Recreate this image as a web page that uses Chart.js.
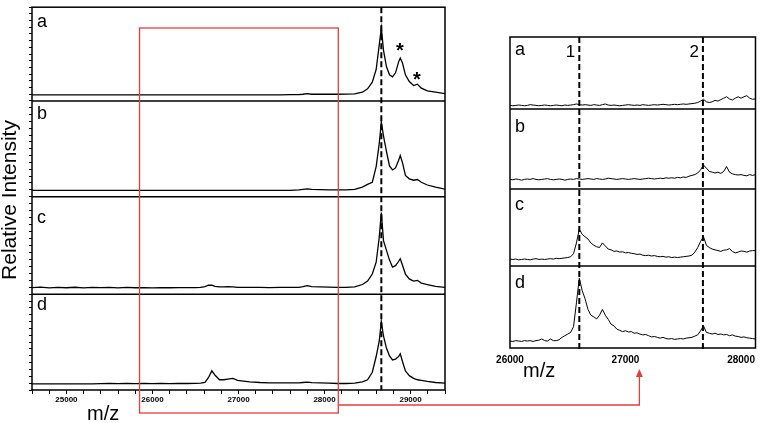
<!DOCTYPE html>
<html>
<head>
<meta charset="utf-8">
<script src="https://cdn.jsdelivr.net/npm/chart.js@4/dist/chart.umd.min.js"></script>
<style>
html, body { margin: 0; padding: 0; background: #fff; }
#wrap { position: relative; width: 761px; height: 423px; }
canvas { position: absolute; left: 0; top: 0; }
</style>
</head>
<body>
<div id="wrap">
<canvas id="left" width="761" height="423"></canvas>
<canvas id="right" width="761" height="423"></canvas>
</div>
<script>
// full spectra (left), m/z grid shared by the four traces
var leftMz = [24600, 24700, 24800, 24900, 25000, 25100, 25200, 25300, 25400, 25500,
    25600, 25700, 25800, 25900, 26000, 26100, 26200, 26300, 26400, 26500,
    26560, 26610, 26650, 26690, 26725, 26780, 26830, 26875, 26935, 26990,
    27060, 27130, 27250, 27360, 27480, 27600, 27700, 27750, 27800, 27850,
    27950, 28050, 28150, 28250, 28350, 28440, 28500, 28555, 28600, 28635,
    28660, 28685, 28720, 28755, 28790, 28825, 28860, 28880, 28905, 28940,
    28985, 29035, 29080, 29125, 29195, 29290, 29400];
var leftA = [0, 0, 0, 0, 0, 0, 0, 0, 0, 0,
    0, 0, 0, 0, 0, 0, 0, 0, 0, 0,
    0, 0, 0, 0, 0, 0, 0, 0, 0, 0,
    0, 0, 0, 0, 0, 0.3, 0.5, 1, 1.8, 1,
    1, 1, 1, 1.2, 1.5, 4, 9, 19, 38, 74,
    100, 67, 42, 30, 27, 33, 49, 55, 48, 30,
    20, 14, 16, 10, 6, 4, 2];
var leftB = [0, 0, 0, 0, 0, 0, 0, 0, 0, 0,
    0, 0, 0, 0, 0, 0, 0, 0, 0, 0,
    0, 0, 0, 0, 0, 0, 0, 0, 0, 0,
    0, 0, 0, 0, 0, 0, 0.8, 1.5, 2.2, 1.5,
    1.3, 1, 0.8, 0.8, 1.5, 5, 9, 12, 35, 68,
    100, 80, 57, 36, 30, 33, 44, 51, 41, 22,
    17, 15, 16, 12, 8, 5, 2];
var leftC = [0.5, 1.2, 0.3, 1.0, 0.4, 1.1, 0.2, 0.9, 0.5, 1.0,
    0.3, 0.8, 0.4, 0.6, 0.3, 0.5, 0.4, 0.6, 0.5, 0.7,
    1, 2, 4, 4, 2.5, 1.5, 1.5, 2, 1.5, 1,
    1, 0.8, 0.8, 0.7, 0.8, 0.9, 1, 2, 3.5, 2,
    1.5, 1.2, 1, 1, 1.5, 5, 10, 20, 37, 72,
    108, 68, 54, 40, 30, 32, 38, 42, 33, 20,
    13, 10, 11, 7, 5, 2.5, 1];
var leftD = [0, 0, 0, 0, 0, 0, 0, 0, 0.3, 0.8,
    0.3, 0.5, 0.3, 0.5, 0.3, 0.5, 0.4, 0.5, 0.5, 0.6,
    1, 2, 9, 19, 13, 6, 6, 7, 8, 5,
    4, 3, 2, 1.5, 1.5, 1.5, 1.5, 2, 2.5, 1.8,
    1.5, 1, 0.5, 0.5, 1, 3, 6, 17, 40, 62,
    91, 70, 52, 41, 35, 36, 40, 44, 33, 19,
    12, 8, 6, 5, 3.5, 2, 1];
var leftTicks = [24600, 24800, 25000, 25200, 25400, 25600, 25800, 26000, 26200, 26400,
    26600, 26800, 27000, 27200, 27400, 27600, 27800, 28000, 28200, 28400,
    28600, 28800, 29000, 29200, 29400];

// zoomed region (right)
var rightMz = [26000, 26025, 26050, 26075, 26100, 26125, 26150, 26175, 26200, 26225,
    26250, 26275, 26300, 26325, 26350, 26375, 26400, 26425, 26450, 26475,
    26500, 26525, 26550, 26575, 26600, 26625, 26650, 26675, 26700, 26725,
    26750, 26775, 26800, 26825, 26850, 26875, 26900, 26925, 26950, 26975,
    27000, 27025, 27050, 27075, 27100, 27125, 27150, 27175, 27200, 27225,
    27250, 27275, 27300, 27325, 27350, 27375, 27400, 27425, 27450, 27475,
    27500, 27525, 27550, 27575, 27600, 27625, 27650, 27675, 27700, 27725,
    27750, 27775, 27800, 27825, 27850, 27875, 27900, 27925, 27950, 27975,
    28000, 28025, 28050, 28075, 28100, 28125];
var rightA = [5, 4.5, 5, 5.5, 5, 4.5, 5, 6, 5.5, 5,
    4.5, 5, 5.5, 5, 4.5, 5, 5.5, 5, 4.5, 5.5,
    5, 5.5, 6, 7, 6, 5.5, 6, 5.5, 5, 6,
    5.5, 5, 6, 7, 5.5, 5, 5.5, 5, 4.5, 5,
    5.5, 6, 5.5, 5, 5.5, 5, 6, 5.5, 5, 5.5,
    6, 5.5, 6, 6.5, 6, 5.5, 6, 6.5, 6, 6.5,
    7, 6.5, 7, 7.5, 8, 9, 11, 13.5, 10, 9,
    10, 12, 11, 13, 15, 17, 14, 12.5, 15, 17,
    15, 17, 18.5, 15, 13.5, 14];
var rightB = [12, 11.5, 12.5, 12, 11, 12, 12.5, 12, 13, 12,
    11.5, 12, 12.5, 13, 12, 11.5, 12, 12.5, 12, 11,
    12, 12.5, 12, 13, 12.5, 12, 12.5, 13, 12.5, 12,
    13, 12.5, 12, 12.5, 13.5, 13, 12.5, 12, 12.5, 13,
    12.5, 12, 12.5, 13, 12.5, 12, 12.5, 13, 13.5, 13,
    12.5, 13, 13.5, 13, 14, 13.5, 14, 13.5, 14.5, 14,
    15, 14.5, 16, 17, 18, 20, 24, 30, 26, 22,
    21, 20, 21, 19.5, 22, 28, 21, 19, 18, 17.5,
    18, 17, 16.5, 18, 17, 18];
var rightC = [9, 8.5, 9, 8, 8.5, 9, 8.5, 8, 9, 9.5,
    8.5, 9, 8.5, 9, 9.5, 9, 10, 9.5, 10, 10.5,
    11, 12, 16, 30, 48, 41, 38, 35, 30, 27,
    25, 24, 30, 26, 22, 21, 19, 19.5, 18, 18.5,
    17, 17.5, 16.5, 16, 15, 15.5, 14, 13.5, 14, 13,
    13.5, 12.5, 12, 12.5, 11.5, 12, 11, 11.5, 11, 11.5,
    12, 12.5, 13, 14, 18, 24, 32, 38, 27, 24,
    22, 21, 20, 19, 20.5, 21, 22.5, 19, 17, 18,
    19.5, 19, 18, 19.5, 20, 20];
var rightD = [8.5, 8, 9, 8.5, 8, 9, 8.5, 9, 8, 9,
    9.5, 11, 9, 8.5, 11, 9, 9, 10, 13, 15,
    17, 19, 26, 55, 85, 70, 60, 47, 40, 38,
    35.5, 40, 47, 40, 35, 29, 27, 23, 21.5, 20,
    21, 19.5, 20, 18, 18.5, 17, 16, 16.5, 15, 13.5,
    14, 13, 12, 13, 11.5, 11, 11.5, 10.5, 11, 11.5,
    11, 12, 12.5, 13, 14.5, 16, 21, 27, 19, 18,
    17, 18, 16.5, 17, 16, 16.5, 15, 16, 14.5, 14,
    13, 13.5, 12.5, 12, 11.5, 11];
var rightTicks = [26000, 27000, 28000];

var rowLabels = ['a', 'b', 'c', 'd'];
var mainPeak = 28660;
var markerMz = [26600, 27670];
var markerText = ['1', '2'];
var starMz = [28876, 29074];
var starY = [73.5, 29];
var zoomFrom = 25850, zoomTo = 28160, arrowMz = 27120;

var FONT = '"Liberation Sans", Arial, sans-serif';
var RED = '#e53f3c';

function trace(xs, ys, axis, w) {
    return {
        data: xs.map(function (x, i) { return { x: x, y: ys[i] }; }),
        yAxisID: axis,
        borderColor: '#000',
        borderWidth: w,
        pointRadius: 0,
        fill: false,
        tension: 0
    };
}

function fixedTicks(values) {
    return function (s) {
        s.ticks = values.map(function (v) { return { value: v }; });
    };
}

function rowAxis(weight, min, max, width, ticks) {
    return {
        type: 'linear', position: 'left', stack: 'rows', stackWeight: weight,
        min: min, max: max,
        afterFit: function (s) { s.width = width; },
        border: { display: false },
        grid: { display: ticks, drawOnChartArea: false, drawTicks: true, tickLength: 3, color: '#000' },
        ticks: { display: ticks, stepSize: 10, includeBounds: false, autoSkip: false, padding: 0,
                 callback: function () { return ''; } }
    };
}

function drawRows(chart, ids, offsets, fontSize) {
    var ctx = chart.ctx, a = chart.chartArea;
    ctx.strokeStyle = '#000';
    ctx.lineWidth = 1.5;
    ctx.strokeRect(a.left, a.top, a.right - a.left, a.bottom - a.top);
    ctx.fillStyle = '#000';
    ctx.font = fontSize + 'px ' + FONT;
    ctx.textAlign = 'left';
    ctx.textBaseline = 'alphabetic';
    ids.forEach(function (id, k) {
        var s = chart.scales[id];
        if (k > 0) {
            ctx.beginPath();
            ctx.moveTo(a.left, s.top);
            ctx.lineTo(a.right, s.top);
            ctx.stroke();
        }
        ctx.fillText(rowLabels[k], a.left + 5, s.top + offsets[k]);
    });
}

function dashed(chart, px, y1, y2) {
    var ctx = chart.ctx;
    ctx.save();
    ctx.setLineDash([6, 3]);
    ctx.lineWidth = 2;
    ctx.strokeStyle = '#000';
    ctx.beginPath();
    ctx.moveTo(px, y1);
    ctx.lineTo(px, y2);
    ctx.stroke();
    ctx.restore();
}

var leftIds = ['ya', 'yb', 'yc', 'yd'];
var leftDecor = {
    id: 'leftDecor',
    afterDraw: function (chart) {
        var ctx = chart.ctx, a = chart.chartArea, xs = chart.scales.x;
        ctx.save();
        drawRows(chart, leftIds, [20, 18, 26, 16], 18);
        dashed(chart, xs.getPixelForValue(mainPeak), a.top, a.bottom);
        ctx.font = 'bold 20px ' + FONT;
        ctx.textAlign = 'center';
        starMz.forEach(function (m, i) {
            ctx.fillText('*', xs.getPixelForValue(m), chart.scales.ya.getPixelForValue(starY[i]) + 11);
        });
        ctx.font = '20px ' + FONT;
        ctx.textAlign = 'left';
        ctx.fillText('m/z', 87, 420);
        ctx.translate(16, 200);
        ctx.rotate(-Math.PI / 2);
        ctx.font = '21px ' + FONT;
        ctx.textAlign = 'center';
        ctx.fillText('Relative Intensity', 0, 0);
        ctx.restore();
    }
};

var leftChart = new Chart(document.getElementById('left'), {
    type: 'line',
    data: {
        datasets: [
            trace(leftMz, leftA, 'ya', 1.3),
            trace(leftMz, leftB, 'yb', 1.3),
            trace(leftMz, leftC, 'yc', 1.3),
            trace(leftMz, leftD, 'yd', 1.3)
        ]
    },
    options: {
        responsive: false,
        animation: false,
        events: [],
        layout: { padding: { left: 0, right: 316, top: 2, bottom: 0 } },
        plugins: { legend: { display: false }, tooltip: { enabled: false } },
        scales: {
            x: {
                type: 'linear', min: 24600, max: 29400,
                afterBuildTicks: fixedTicks(leftTicks),
                afterFit: function (s) { s.height = 33; },
                border: { display: false },
                grid: { drawOnChartArea: false, drawTicks: true, tickLength: 4, color: '#000' },
                ticks: {
                    autoSkip: false, maxRotation: 0,
                    padding: 1, color: '#000', font: { family: FONT, size: 8, weight: 'bold' },
                    callback: function (v) { return v % 1000 === 0 ? String(v) : ''; }
                }
            },
            yd: rowAxis(97, -9, 131, 32, true),
            yc: rowAxis(99, -9, 131, 32, true),
            yb: rowAxis(97, -9, 131, 32, true),
            ya: rowAxis(95, -9, 131, 32, true)
        }
    },
    plugins: [leftDecor]
});

var rightIds = ['ra', 'rb', 'rc', 'rd'];
var rightDecor = {
    id: 'rightDecor',
    afterDraw: function (chart) {
        var ctx = chart.ctx, a = chart.chartArea, xs = chart.scales.x;
        ctx.save();
        drawRows(chart, rightIds, [18, 23, 21, 22], 18);
        markerMz.forEach(function (m, i) {
            var px = xs.getPixelForValue(m);
            dashed(chart, px, a.top, a.bottom + 4);
            ctx.font = '17px ' + FONT;
            ctx.textAlign = 'right';
            ctx.fillText(markerText[i], px - 4, a.top + 20);
        });
        ctx.font = '20px ' + FONT;
        ctx.textAlign = 'left';
        ctx.fillText('m/z', 523, 377);

        // highlighted region on the left and the connector
        var lx = leftChart.scales.x;
        var x1 = lx.getPixelForValue(zoomFrom), x2 = lx.getPixelForValue(zoomTo);
        var ax = xs.getPixelForValue(arrowMz);
        ctx.strokeStyle = RED;
        ctx.fillStyle = RED;
        ctx.lineWidth = 1.3;
        ctx.strokeRect(x1, 28, x2 - x1, 385);
        ctx.beginPath();
        ctx.moveTo(x2, 405);
        ctx.lineTo(ax, 405);
        ctx.lineTo(ax, 375);
        ctx.stroke();
        ctx.beginPath();
        ctx.moveTo(ax, 369);
        ctx.lineTo(ax - 3.5, 377);
        ctx.lineTo(ax + 3.5, 377);
        ctx.closePath();
        ctx.fill();
        ctx.restore();
    }
};

new Chart(document.getElementById('right'), {
    type: 'line',
    data: {
        datasets: [
            trace(rightMz, rightA, 'ra', 1),
            trace(rightMz, rightB, 'rb', 1),
            trace(rightMz, rightC, 'rc', 1),
            trace(rightMz, rightD, 'rd', 1)
        ]
    },
    options: {
        responsive: false,
        animation: false,
        events: [],
        layout: { padding: { left: 510, right: 1, top: 37, bottom: 50 } },
        plugins: { legend: { display: false }, tooltip: { enabled: false } },
        scales: {
            x: {
                type: 'linear', min: 26000, max: 28125,
                afterBuildTicks: fixedTicks(rightTicks),
                afterFit: function (s) { s.height = 25; },
                border: { display: false },
                grid: { display: false, drawTicks: false, tickLength: 0 },
                ticks: {
                    autoSkip: false, maxRotation: 0,
                    padding: 6, color: '#000', font: { family: FONT, size: 10, weight: 'bold' },
                    callback: function (v) { return String(v); }
                }
            },
            rd: rowAxis(82, 0, 100, 0, false),
            rc: rowAxis(77, 0, 100, 0, false),
            rb: rowAxis(80, 0, 100, 0, false),
            ra: rowAxis(72, 0, 100, 0, false)
        }
    },
    plugins: [rightDecor]
});
</script>
</body>
</html>
